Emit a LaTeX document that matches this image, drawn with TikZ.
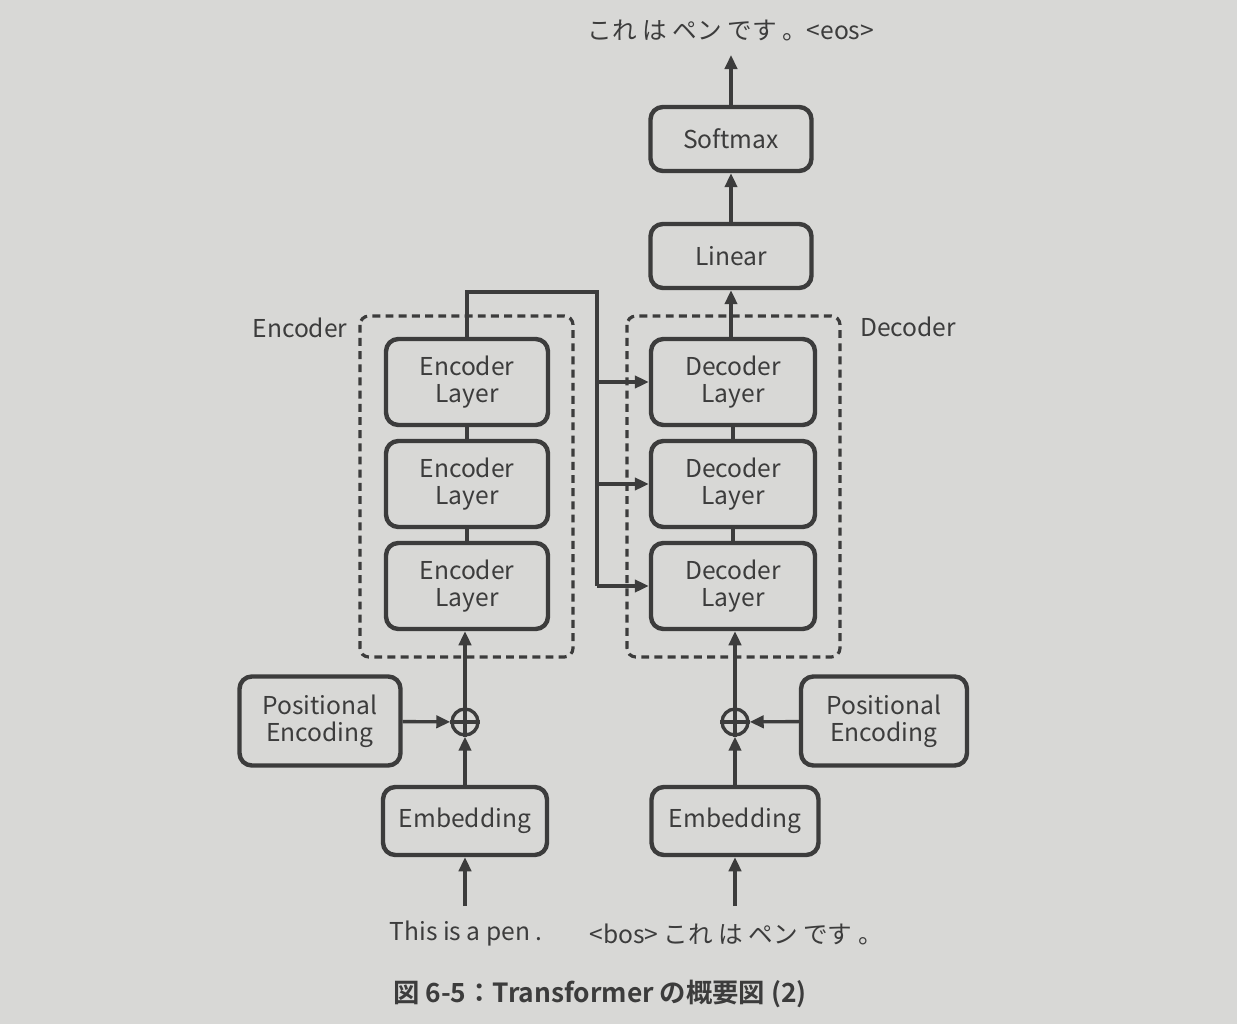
\documentclass[tikz,border=0pt]{standalone}
\usepackage{fontspec}
\setmainfont{Noto Sans CJK JP}[BoldFont={* Bold}]
\usepackage{xcolor}
\usetikzlibrary{arrows.meta}

\definecolor{ink}{HTML}{3C3C3C}
\definecolor{paper}{HTML}{D8D8D6}

\tikzset{
  blk/.style={draw=ink, line width=2.5pt, rounded corners=7pt, fill=paper,
    align=center, inner sep=0pt, text=ink,
    font=\fontsize{14}{15.3}\selectfont},
  wire/.style={draw=ink, line width=1.9pt},
  arr/.style={wire, -{Triangle[length=8pt,width=7pt]}},
  txt/.style={text=ink, font=\fontsize{14}{15.3}\selectfont},
  frame/.style={draw=ink, line width=1.8pt, dash pattern=on 4.5pt off 3pt, rounded corners=5pt},
  sum/.style={circle, draw=ink, line width=1.9pt, minimum size=0.52cm, inner sep=0pt}
}

\begin{document}
\begin{tikzpicture}[x=0.02cm, y=-0.02cm]
  % page
  \fill[paper] (0,0) rectangle (1237,1024);
  \useasboundingbox (0,0) rectangle (1237,1024);

  % encoder / decoder frames
  \draw[frame] (360,316) rectangle (573,657);
  \draw[frame] (627,316) rectangle (840,657);
  \node[txt] (enclbl) at (300,328) {Encoder};
  \node[txt] (declbl) at (908,327) {Decoder};

  % encoder side
  \node[blk, minimum width=3.24cm, minimum height=1.72cm] (enc3) at (467,382) {Encoder\\Layer};
  \node[blk, minimum width=3.24cm, minimum height=1.72cm] (enc2) at (467,484) {Encoder\\Layer};
  \node[blk, minimum width=3.24cm, minimum height=1.72cm] (enc1) at (467,586) {Encoder\\Layer};
  \node[sum] (encsum) at (465,722) {};
  \node[blk, minimum width=3.22cm, minimum height=1.78cm] (encpos) at (320,721) {Positional\\Encoding};
  \node[blk, minimum width=3.28cm, minimum height=1.36cm] (encemb) at (465,821) {Embedding};
  \node[txt] (encin) at (466,934) {This is a pen .};
  \coordinate (encfoot) at (465,906);

  % decoder side
  \node[blk, minimum width=3.28cm, minimum height=1.72cm] (dec3) at (733,382) {Decoder\\Layer};
  \node[blk, minimum width=3.28cm, minimum height=1.72cm] (dec2) at (733,484) {Decoder\\Layer};
  \node[blk, minimum width=3.28cm, minimum height=1.72cm] (dec1) at (733,586) {Decoder\\Layer};
  \node[sum] (decsum) at (735,722) {};
  \node[blk, minimum width=3.32cm, minimum height=1.78cm] (decpos) at (884,721) {Positional\\Encoding};
  \node[blk, minimum width=3.34cm, minimum height=1.36cm] (decemb) at (735,821) {Embedding};
  \node[txt] (decin) at (736,934) {<bos> これ は ペン です 。};
  \coordinate (decfoot) at (735,906);

  \node[blk, minimum width=3.22cm, minimum height=1.28cm] (linear) at (731,256) {Linear};
  \node[blk, minimum width=3.22cm, minimum height=1.28cm] (softmax) at (731,139) {Softmax};
  \node[txt] (out) at (731,30) {これ は ペン です 。<eos>};
  \coordinate (outfoot) at (731,55);

  % plus signs
  \draw[wire] (encsum.north) -- (encsum.south);
  \draw[wire] (encsum.west) -- (encsum.east);
  \draw[wire] (decsum.north) -- (decsum.south);
  \draw[wire] (decsum.west) -- (decsum.east);

  % stacks
  \draw[wire] (enc1) -- (enc2);
  \draw[wire] (enc2) -- (enc3);
  \draw[wire] (dec1) -- (dec2);
  \draw[wire] (dec2) -- (dec3);

  % inputs
  \draw[arr] (encfoot) -- (encemb);
  \draw[arr] (decfoot) -- (decemb);
  \draw[arr] (encemb) -- (encsum);
  \draw[arr] (decemb) -- (decsum);
  \draw[arr] (encpos) -- (encsum);
  \draw[arr] (decpos) -- (decsum);
  \draw[arr] (encsum) -- (encsum |- enc1.south);
  \draw[arr] (decsum) -- (decsum |- dec1.south);

  % encoder output to decoder layers
  \coordinate (bend) at (597,292);
  \draw[wire] (enc3.north) |- (bend) -- (bend |- dec1.west);
  \draw[arr] (bend |- dec3.west) -- (dec3.west);
  \draw[arr] (bend |- dec2.west) -- (dec2.west);
  \draw[arr] (bend |- dec1.west) -- (dec1.west);

  % head
  \draw[arr] (dec3.north -| linear) -- (linear);
  \draw[arr] (linear) -- (softmax);
  \draw[arr] (softmax) -- (outfoot);

  % caption
  \node[text=ink, font=\fontsize{15}{16}\selectfont\bfseries] (cap) at (600,994) {図 6-5：Transformer の概要図 (2)};
\end{tikzpicture}
\end{document}
